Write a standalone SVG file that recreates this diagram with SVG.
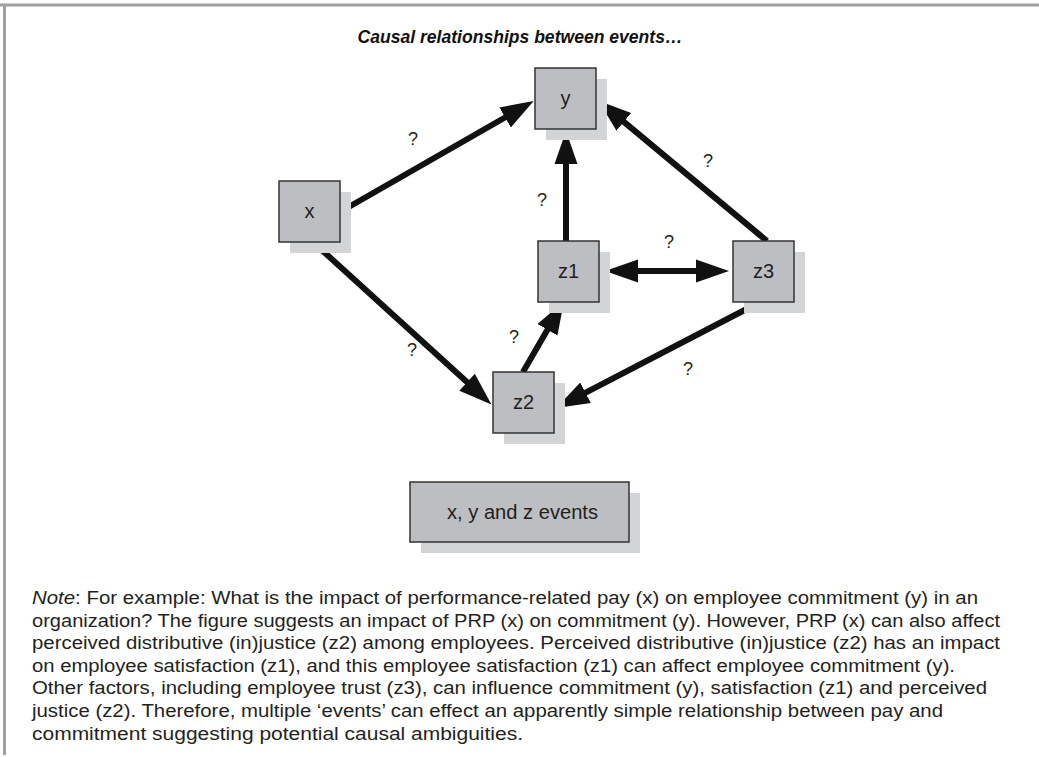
<svg xmlns="http://www.w3.org/2000/svg" width="1039" height="757" viewBox="0 0 1039 757">
<style>
.shadow{fill:#d3d4d6}
.box{fill:#bdbec2;stroke:#333;stroke-width:1.5}
.lbl{font-family:"Liberation Sans",Arial,sans-serif;font-size:20px;fill:#231f20;text-anchor:middle;dominant-baseline:central}
.q{font-family:"Liberation Sans",Arial,sans-serif;font-size:18px;fill:#231f20;text-anchor:middle;dominant-baseline:central}
.conn{stroke:#111;stroke-width:6;fill:none;stroke-linecap:butt}
.note{font-family:"Liberation Sans",Arial,sans-serif;font-size:17.5px;fill:#231f20}
.title{font-family:"Liberation Sans",Arial,sans-serif;font-size:18px;font-weight:bold;font-style:italic;fill:#111;text-anchor:middle}
</style>
<defs>
<marker id="ah" markerUnits="userSpaceOnUse" markerWidth="36" markerHeight="26" viewBox="0 -13 36 26" refX="21" refY="0" orient="auto-start-reverse">
<path d="M0,-11.5 L33,0 L0,11.5 z" fill="#111"/>
</marker>
</defs>
<rect x="0" y="0" width="1039" height="757" fill="#fff"/>
<line x1="0" y1="5" x2="1039" y2="5" stroke="#a0a0a2" stroke-width="3"/>
<line x1="4.5" y1="5" x2="4.5" y2="755" stroke="#a0a0a2" stroke-width="3"/>
<text class="title" x="520" y="43" textLength="325" lengthAdjust="spacingAndGlyphs">Causal relationships between events…</text>
<g id="connectors">
<path class="conn" d="M340,212 L523.3,107" marker-end="url(#ah)"/>
<path class="conn" d="M313,242 L482.6,396.3" marker-end="url(#ah)"/>
<path class="conn" d="M523,372 L558,311.6" marker-end="url(#ah)"/>
<path class="conn" d="M566,241 L566,143" marker-end="url(#ah)"/>
<path class="conn" d="M617,271 L717,271" marker-start="url(#ah)" marker-end="url(#ah)"/>
<path class="conn" d="M767,241 L607.7,108.4" marker-end="url(#ah)"/>
<path class="conn" d="M762,301 L566.9,402.4" marker-end="url(#ah)"/>
<text class="q" x="413" y="139">?</text>
<text class="q" x="412" y="350">?</text>
<text class="q" x="542" y="200">?</text>
<text class="q" x="514" y="337">?</text>
<text class="q" x="669" y="242">?</text>
<text class="q" x="708" y="161">?</text>
<text class="q" x="688" y="369">?</text>
</g>
<g id="node-y">
<rect class="shadow" x="546" y="79" width="61" height="61"/>
<rect class="box" x="535" y="68" width="61" height="61"/>
<text class="lbl" x="565.5" y="98">y</text>
</g>
<g id="node-x">
<rect class="shadow" x="290" y="192" width="61" height="61"/>
<rect class="box" x="279" y="181" width="61" height="61"/>
<text class="lbl" x="309.5" y="211">x</text>
</g>
<g id="node-z1">
<rect class="shadow" x="549" y="252" width="61" height="61"/>
<rect class="box" x="538" y="241" width="61" height="61"/>
<text class="lbl" x="568.5" y="271">z1</text>
</g>
<g id="node-z3">
<rect class="shadow" x="744" y="252" width="61" height="61"/>
<rect class="box" x="733" y="241" width="61" height="61"/>
<text class="lbl" x="763.5" y="271">z3</text>
</g>
<g id="node-z2">
<rect class="shadow" x="504" y="383" width="61" height="61"/>
<rect class="box" x="493" y="372" width="61" height="61"/>
<text class="lbl" x="523.5" y="402">z2</text>
</g>
<g id="legend">
<rect class="shadow" x="421" y="493" width="219" height="60"/>
<rect class="box" x="410" y="482" width="219" height="60"/>
<text class="lbl" x="522.5" y="512" textLength="151" lengthAdjust="spacingAndGlyphs">x, y and z events</text>
</g>
<g id="note">
<text class="note" x="32" y="604" textLength="946" lengthAdjust="spacingAndGlyphs"><tspan font-style="italic">Note</tspan>: For example: What is the impact of performance-related pay (x) on employee commitment (y) in an</text>
<text class="note" x="32" y="626.6" textLength="968" lengthAdjust="spacingAndGlyphs">organization? The figure suggests an impact of PRP (x) on commitment (y). However, PRP (x) can also affect</text>
<text class="note" x="32" y="649.2" textLength="968" lengthAdjust="spacingAndGlyphs">perceived distributive (in)justice (z2) among employees. Perceived distributive (in)justice (z2) has an impact</text>
<text class="note" x="32" y="671.8" textLength="923" lengthAdjust="spacingAndGlyphs">on employee satisfaction (z1), and this employee satisfaction (z1) can affect employee commitment (y).</text>
<text class="note" x="32" y="694.4" textLength="955" lengthAdjust="spacingAndGlyphs">Other factors, including employee trust (z3), can influence commitment (y), satisfaction (z1) and perceived</text>
<text class="note" x="32" y="717" textLength="911" lengthAdjust="spacingAndGlyphs">justice (z2). Therefore, multiple ‘events’ can effect an apparently simple relationship between pay and</text>
<text class="note" x="32" y="739.6" textLength="491" lengthAdjust="spacingAndGlyphs">commitment suggesting potential causal ambiguities.</text>
</g>
</svg>
